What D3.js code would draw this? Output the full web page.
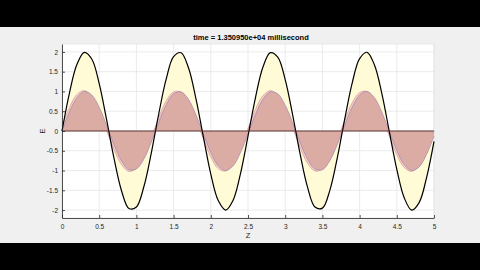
<!DOCTYPE html>
<html>
<head>
<meta charset="utf-8">
<script src="https://cdn.jsdelivr.net/npm/d3@7"></script>
<style>
body{margin:0;background:#000;}
svg{display:block;}
</style>
</head>
<body>
<div id="chart"></div>
<script>
// sample positions along Z
var zVals = [0,0.1,0.2,0.3,0.4,0.5,0.6,0.7,0.8,0.9,1,1.1,1.2,1.3,1.4,1.5,1.6,1.7,1.8,1.9,2,
	2.1,2.2,2.3,2.4,2.5,2.6,2.7,2.8,2.9,3,3.1,3.2,3.3,3.4,3.5,3.6,3.7,3.8,3.9,4,
	4.1,4.2,4.3,4.4,4.5,4.6,4.7,4.8,4.9,5];
// total field (black)
var eTotal = [0,0.96,1.68,1.99,1.82,1.2,0.28,-0.7,-1.51,-1.96,-1.92,-1.41,-0.56,0.43,1.31,1.88,1.98,1.6,0.82,-0.15,-1.09,
	-1.76,-2,-1.75,-1.07,-0.13,0.84,1.61,1.98,1.87,1.3,0.41,-0.58,-1.42,-1.92,-1.95,-1.5,-0.68,0.3,1.21,1.83,
	1.99,1.67,0.94,-0.02,-0.97,-1.69,-2,-1.81,-1.18,-0.26];
// wave 1 (blue, filled)
var eWave1 = [0,0.48,0.84,1,0.91,0.6,0.14,-0.35,-0.76,-0.98,-0.96,-0.71,-0.28,0.22,0.66,0.94,0.99,0.8,0.41,-0.08,-0.54,
	-0.88,-1,-0.88,-0.54,-0.07,0.42,0.8,0.99,0.94,0.65,0.21,-0.29,-0.71,-0.96,-0.98,-0.75,-0.34,0.15,0.6,0.91,
	1,0.84,0.47,-0.01,-0.49,-0.85,-1,-0.91,-0.59,-0.13];
// wave 2 (pink)
var eWave2 = [0.12,0.59,0.92,1.02,0.87,0.51,0.02,-0.47,-0.85,-1.02,-0.94,-0.63,-0.17,0.34,0.76,0.99,0.98,0.73,0.31,-0.2,-0.65,
	-0.95,-1.01,-0.83,-0.44,0.06,0.54,0.89,1.02,0.9,0.57,0.09,-0.41,-0.81,-1.01,-0.96,-0.68,-0.23,0.27,0.71,0.97,
	1,0.78,0.37,-0.13,-0.6,-0.92,-1.02,-0.87,-0.5,-0.01];
var xTicks = [0,0.5,1,1.5,2,2.5,3,3.5,4,4.5,5];
var yTicks = [-2,-1.5,-1,-0.5,0,0.5,1,1.5,2];
var titleText = "time = 1.350950e+04 millisecond";

var W = 480, H = 270;
var svg = d3.select("#chart").append("svg").attr("width",W).attr("height",H);

// figure panel
svg.append("rect").attr("x",0).attr("y",27).attr("width",W).attr("height",216).attr("fill","#f0f0f0");

var pLeft = 62, pRight = 434, pTop = 44, pBottom = 218;
var x = d3.scaleLinear().domain([0,5]).range([pLeft,pRight]);
var y = d3.scaleLinear().domain([-2.2,2.2]).range([pBottom,pTop]);

svg.append("rect").attr("x",pLeft).attr("y",pTop).attr("width",pRight-pLeft).attr("height",pBottom-pTop)
	.attr("fill","#fff").attr("stroke","#e4e4e4").attr("stroke-width",0.8);

// grid
svg.selectAll(".gx").data(xTicks).enter().append("line")
	.attr("x1",function(d){return x(d);}).attr("x2",function(d){return x(d);})
	.attr("y1",pTop).attr("y2",pBottom).attr("stroke","#e6e6e6").attr("stroke-width",0.8);
svg.selectAll(".gy").data(yTicks).enter().append("line")
	.attr("y1",function(d){return y(d);}).attr("y2",function(d){return y(d);})
	.attr("x1",pLeft).attr("x2",pRight).attr("stroke","#e6e6e6").attr("stroke-width",0.8);

var pts = function(arr){ return zVals.map(function(z,i){ return [z,arr[i]]; }); };
var curve = d3.curveCatmullRom;

var area = d3.area().x(function(d){return x(d[0]);}).y0(y(0)).y1(function(d){return y(d[1]);}).curve(curve);
var line = d3.line().x(function(d){return x(d[0]);}).y(function(d){return y(d[1]);}).curve(curve);

svg.append("path").datum(pts(eTotal)).attr("d",area).attr("fill","#fffbd6");
svg.append("path").datum(pts(eWave2)).attr("d",area).attr("fill","#f3c9c2").attr("fill-opacity",0.8);
svg.append("path").datum(pts(eWave1)).attr("d",area).attr("fill","#d6a59d").attr("fill-opacity",0.85);

svg.append("path").datum(pts(eWave2)).attr("d",line).attr("fill","none").attr("stroke","#e8a4a4").attr("stroke-width",1);
svg.append("path").datum(pts(eWave1)).attr("d",line).attr("fill","none").attr("stroke","#a08cb8").attr("stroke-width",0.8);
svg.append("path").datum(pts(eTotal)).attr("d",line).attr("fill","none").attr("stroke","#000").attr("stroke-width",1.2);

// zero line
svg.append("line").attr("x1",x(0)).attr("x2",x(5)).attr("y1",y(0)).attr("y2",y(0))
	.attr("stroke","#5a3532").attr("stroke-width",1.2);

// axes
var xAxis = d3.axisBottom(x).tickValues(xTicks).tickSizeInner(-3).tickSizeOuter(0).tickPadding(6)
	.tickFormat(function(d){return String(d);});
var yAxis = d3.axisLeft(y).tickValues(yTicks).tickSizeInner(-3).tickSizeOuter(0).tickPadding(4)
	.tickFormat(function(d){return String(d);});

var gx = svg.append("g").attr("transform","translate(0,"+pBottom+")").call(xAxis);
var gy = svg.append("g").attr("transform","translate("+pLeft+",0)").call(yAxis);
[gx,gy].forEach(function(g){
	g.select(".domain").attr("stroke","#262626").attr("stroke-width",0.8);
	g.selectAll(".tick line").attr("stroke","#262626").attr("stroke-width",0.8);
	g.selectAll("text").attr("fill","#262626").style("font-family","Liberation Sans, Arial, sans-serif").style("font-size","6.5px");
});

svg.append("text").attr("x",(pLeft+pRight)/2 + 3).attr("y",40).attr("text-anchor","middle")
	.style("font-family","Liberation Sans, Arial, sans-serif").style("font-size","7.5px").style("font-weight","bold")
	.attr("fill","#000").text(titleText);

svg.append("text").attr("x",(pLeft+pRight)/2).attr("y",238).attr("text-anchor","middle")
	.style("font-family","Liberation Sans, Arial, sans-serif").style("font-size","7.5px").attr("fill","#262626").text("Z");

svg.append("text").attr("transform","translate(45,"+y(0)+") rotate(-90)").attr("text-anchor","middle")
	.style("font-family","Liberation Sans, Arial, sans-serif").style("font-size","7.5px").attr("fill","#262626").text("E");
</script>
</body>
</html>
